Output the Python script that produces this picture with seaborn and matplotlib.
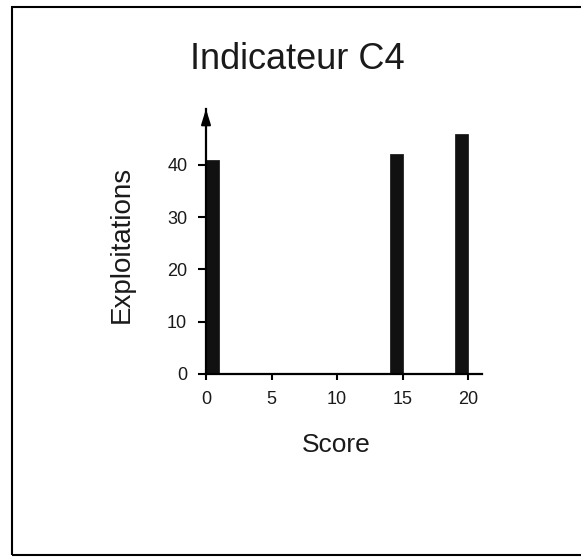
import matplotlib
matplotlib.use("Agg")
import matplotlib.pyplot as plt
from matplotlib.patches import Rectangle
import seaborn as sns

# Scores obtained and number of farms at each score
scores = [0, 14, 19]
counts = [41, 42, 46]
x_ticks = [0, 5, 10, 15, 20]
y_ticks = [0, 10, 20, 30, 40]

sns.set_style("ticks")
plt.rcParams["font.family"] = ["Liberation Sans", "DejaVu Sans"]
plt.rcParams["text.color"] = "#1a1a1a"
plt.rcParams["axes.labelcolor"] = "#1a1a1a"
plt.rcParams["xtick.color"] = "black"
plt.rcParams["ytick.color"] = "black"
plt.rcParams["xtick.labelcolor"] = "#1a1a1a"
plt.rcParams["ytick.labelcolor"] = "#1a1a1a"

W, H = 581, 558
fig = plt.figure(figsize=(W / 100, H / 100), dpi=100)
fig.patch.set_facecolor("white")
ax = fig.add_axes([206 / W, 1 - 374 / H, (482 - 206) / W, (374 - 109) / H])

sns.histplot(x=scores, weights=counts, binwidth=1, binrange=(0, 21),
             color="#111111", alpha=1, edgecolor="#222222", linewidth=0.6,
             ax=ax)

ax.set_xlim(0, 21.05)
ax.set_ylim(0, 50.7)
ax.set_xticks(x_ticks)
ax.set_yticks(y_ticks)
ax.tick_params(axis="both", labelsize=13, width=1.5)
ax.tick_params(axis="x", length=4, pad=8)
ax.tick_params(axis="y", length=5.5, pad=8)
sns.despine(ax=ax)
for side in ("left", "bottom"):
    ax.spines[side].set_linewidth(1.6)
    ax.spines[side].set_color("black")

ax.set_xlabel("Score", fontsize=19)
ax.set_ylabel("Exploitations", fontsize=20)
ax.xaxis.set_label_coords(0.471, -0.222)
ax.yaxis.set_label_coords(-0.257, 0.49)

# arrow head on top of the vertical axis
ax.annotate("", xy=(0, 1.0), xycoords=("data", "axes fraction"),
            xytext=(0, 0.94), textcoords=("data", "axes fraction"),
            arrowprops=dict(arrowstyle="-|>,head_length=0.9,head_width=0.28",
                            color="black", lw=1.6, shrinkA=0, shrinkB=0),
            annotation_clip=False)

fig.text(297 / W, 1 - 69 / H, "Indicateur C4", fontsize=26,
         ha="center", va="baseline")

# frame around the figure
fig.add_artist(Rectangle((12 / W, 1 - 555 / H), 1.0, (555 - 6.5) / H,
                         transform=fig.transFigure, fill=False,
                         edgecolor="black", linewidth=1.5))

fig.savefig("out.png", dpi=100, facecolor="white")
